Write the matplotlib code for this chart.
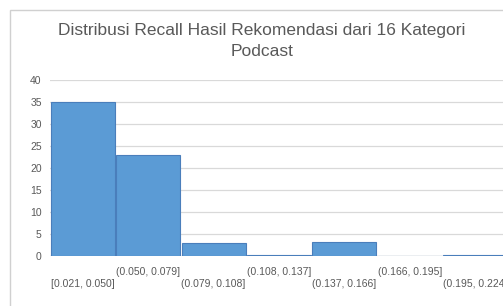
import matplotlib.pyplot as plt
from matplotlib.patches import Rectangle

# Histogram bins (recall ranges) and counts
bins = ["[0.021, 0.050]", "(0.050, 0.079]", "(0.079, 0.108]", "(0.108, 0.137]",
        "(0.137, 0.166]", "(0.166, 0.195]", "(0.195, 0.224]"]
counts = [35, 23, 3, 0.25, 3.2, 0, 0.25]
y_ticks = [0, 5, 10, 15, 20, 25, 30, 35, 40]

title = "Distribusi Recall Hasil Rekomendasi dari 16 Kategori\nPodcast"

plt.rcParams['font.family'] = ['Liberation Sans', 'DejaVu Sans']

fig = plt.figure(figsize=(5.03, 3.06), dpi=100)

# chart frame (Excel style)
fig.patches.append(Rectangle((10 / 503, -0.1), 1.1, (306 - 10) / 306 + 0.1,
                             transform=fig.transFigure, fill=False,
                             edgecolor="#d0d0d0", linewidth=1.0))

ax = fig.add_axes([50 / 503, 50 / 306, 458 / 503, 176 / 306])
x = range(len(bins))
ax.bar(x, counts, width=0.98, color="#5b9bd5", edgecolor="#4a7ebb",
       linewidth=0.8, zorder=3)

ax.set_xlim(-0.5, len(bins) - 0.5)
ax.set_ylim(0, 40)
ax.set_yticks(y_ticks)
ax.yaxis.grid(True, color="#d9d9d9", linewidth=0.9, zorder=0)
for s in ax.spines.values():
    s.set_visible(False)
ax.axhline(0, color="#d9d9d9", linewidth=0.9, zorder=1)

# alternate label rows like Excel does when space is tight
labels = [("\n" + b) if i % 2 == 0 else b for i, b in enumerate(bins)]
ax.set_xticks(list(x))
ax.set_xticklabels(labels, fontsize=7.5, color="#595959", linespacing=1.25)
ax.tick_params(axis="both", length=0, colors="#595959", labelsize=7.5)
ax.tick_params(axis="x", pad=8)
ax.tick_params(axis="y", pad=6)

fig.text(262 / 503, 1 - 41 / 306, title, ha="center", va="center",
         fontsize=12.5, color="#595959", linespacing=1.45)

fig.savefig("out.png", dpi=100)
